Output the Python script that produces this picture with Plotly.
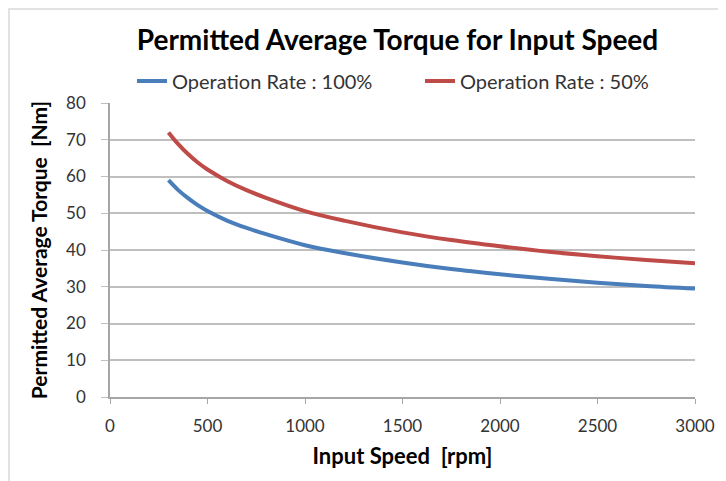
import plotly.graph_objects as go

speed = [300, 350, 400, 450, 500, 600, 700, 800, 1000, 1200, 1500, 1750, 2000, 2250, 2500, 2750, 3000]
rate_100 = [59.0, 56.3, 54.1, 52.2, 50.6, 48.0, 46.0, 44.3, 41.3, 39.2, 36.6, 34.8, 33.4, 32.2, 31.1, 30.2, 29.5]
rate_50 = [72.0, 68.8, 66.1, 63.8, 61.9, 58.8, 56.3, 54.2, 50.6, 48.0, 44.8, 42.7, 41.0, 39.5, 38.3, 37.3, 36.4]
series_names = ["Operation Rate : 100%", "Operation Rate : 50%"]
x_ticks = [0, 500, 1000, 1500, 2000, 2500, 3000]
y_ticks = [0, 10, 20, 30, 40, 50, 60, 70, 80]

FONT = "Lato, 'Open Sans', sans-serif"
TXT = "#333333"

W, H = 718, 473
L, R, T, B = 102, 31, 95, 84
PW, PH = W - L - R, H - T - B
LEG_Y = (T + PH - 73) / PH

fig = go.Figure()
fig.add_trace(go.Scatter(x=speed, y=rate_100, mode="lines", name=series_names[0], legend="legend",
                         line=dict(color="#4a7ebb", width=4, shape="spline")))
fig.add_trace(go.Scatter(x=speed, y=rate_50, mode="lines", name=series_names[1], legend="legend2",
                         line=dict(color="#be4b48", width=4, shape="spline")))

leg_common = dict(orientation="h", xanchor="left", y=LEG_Y, yanchor="middle",
                  font=dict(size=20, family=FONT, color=TXT), bgcolor="rgba(0,0,0,0)")

fig.update_layout(
    width=W, height=H,
    margin=dict(l=L, r=R, t=T, b=B),
    paper_bgcolor="white", plot_bgcolor="white",
    font=dict(family=FONT, color=TXT, size=17),
    title=dict(text="<b>Permitted Average Torque for Input Speed</b>",
               x=389.5 / W, xanchor="center", y=1 - 32 / H, yanchor="middle",
               font=dict(size=28, family=FONT, color="black")),
    showlegend=True,
    legend=dict(x=(124 - L) / PW, **leg_common),
    legend2=dict(x=(412 - L) / PW, **leg_common),
    shapes=[dict(type="rect", xref="paper", yref="paper",
                 x0=(1 - L) / PW, x1=(W + 20 - L) / PW, y0=(T + PH - H - 20) / PH, y1=(T + PH - 1) / PH,
                 line=dict(color="#d9d9d9", width=1.5), fillcolor="rgba(0,0,0,0)", layer="below")],
)
fig.update_xaxes(range=[0, 3000], tickvals=x_ticks, ticks="outside", ticklen=5, tickcolor="#a6a6a6",
                 showline=True, linecolor="#a6a6a6", linewidth=1.5, showgrid=False, zeroline=False,
                 tickfont=dict(size=17, color=TXT), ticklabelstandoff=8,
                 title=dict(text="<b>Input Speed  [rpm]</b>", font=dict(size=22, color="black"), standoff=13))
fig.update_yaxes(range=[0, 80], tickvals=y_ticks, ticks="outside", ticklen=7, tickcolor="#bfbfbf",
                 showline=True, linecolor="#a6a6a6", linewidth=1.5, showgrid=True, gridcolor="#bfbfbf",
                 gridwidth=1.5, zeroline=False, tickfont=dict(size=17, color=TXT), ticklabelstandoff=12,
                 title=dict(text="<b>Permitted Average Torque  [Nm]</b>", font=dict(size=21, color="black"), standoff=13))

fig.write_html("out.html")
